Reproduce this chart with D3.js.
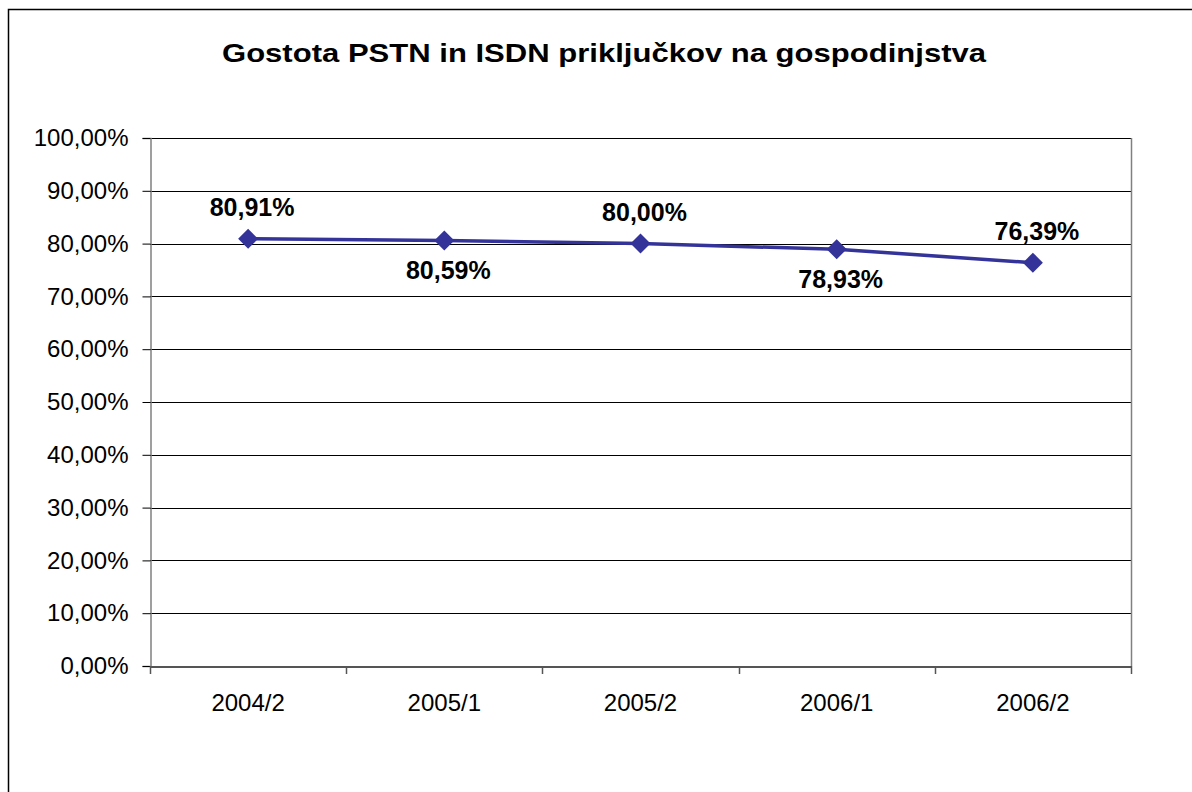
<!DOCTYPE html>
<html>
<head>
<meta charset="utf-8">
<script src="https://cdn.jsdelivr.net/npm/d3@7"></script>
<style>
  body { margin: 0; background: #fff; }
  text { font-family: "Liberation Sans", Arial, sans-serif; }
</style>
</head>
<body>
<div id="chart"></div>
<script>
// data
var periods = ["2004/2", "2005/1", "2005/2", "2006/1", "2006/2"];
var density = [80.91, 80.59, 80.00, 78.93, 76.39];
var labelPos = ["above", "below", "above", "below", "above"];
var yTicks = [0, 10, 20, 30, 40, 50, 60, 70, 80, 90, 100];

var width = 1192, height = 792;
var plot = {left: 150, top: 138, right: 1131, bottom: 666};

var svg = d3.select("#chart")
	.append("svg")
	.attr("width", width)
	.attr("height", height);

// frame (cut off at right/bottom)
svg.append("rect")
	.attr("x", 8.5).attr("y", 9.5)
	.attr("width", width + 20).attr("height", height + 20)
	.attr("fill", "#fff")
	.attr("stroke", "#000")
	.attr("stroke-width", 1.5);

var x = d3.scaleBand()
	.domain(periods)
	.range([plot.left, plot.right]);

var y = d3.scaleLinear()
	.domain([0, 100])
	.range([plot.bottom, plot.top]);

var fmt = function(v){ return d3.format(".2f")(v).replace(".", ",") + "%"; };

// gridlines
svg.append("g")
	.selectAll("line")
	.data(yTicks.filter(function(d){ return d > 0; }))
	.enter()
	.append("line")
	.attr("x1", plot.left).attr("x2", plot.right)
	.attr("y1", function(d){ return Math.round(y(d)) + 0.5; })
	.attr("y2", function(d){ return Math.round(y(d)) + 0.5; })
	.attr("stroke", "#000")
	.attr("stroke-width", 1);

// plot area right border
svg.append("line")
	.attr("x1", plot.right + 0.5).attr("x2", plot.right + 0.5)
	.attr("y1", plot.top).attr("y2", plot.bottom)
	.attr("stroke", "#808080").attr("stroke-width", 1.5);

// y axis
var yAxis = svg.append("g")
	.attr("transform", "translate(" + (plot.left + 0.5) + ",0)")
	.call(d3.axisLeft(y).tickValues(yTicks).tickSize(8).tickPadding(14).tickFormat(fmt));
yAxis.select(".domain").attr("stroke", "#808080").attr("stroke-width", 1.5);
yAxis.selectAll(".tick line").attr("stroke", "#000");
yAxis.selectAll("text").attr("font-size", 24).attr("fill", "#000")
	.attr("font-family", "Liberation Sans, Arial, sans-serif");

// x axis
var xAxis = svg.append("g")
	.attr("transform", "translate(0," + (plot.bottom + 0.5) + ")")
	.call(d3.axisBottom(x).tickSize(0).tickPadding(27));
xAxis.select(".domain").attr("stroke", "#555").attr("stroke-width", 2);
xAxis.selectAll("text").attr("font-size", 24).attr("fill", "#000")
	.attr("font-family", "Liberation Sans, Arial, sans-serif");

// category separators ticks
var edges = periods.map(function(p){ return x(p); }).concat([plot.right]);
svg.append("g")
	.selectAll("line")
	.data(edges)
	.enter()
	.append("line")
	.attr("x1", function(d){ return Math.round(d) + 0.5; })
	.attr("x2", function(d){ return Math.round(d) + 0.5; })
	.attr("y1", plot.bottom).attr("y2", plot.bottom + 8)
	.attr("stroke", "#555").attr("stroke-width", 1.5);

var cx = function(d, i){ return x(periods[i]) + x.bandwidth() / 2; };

// line
var line = d3.line()
	.x(function(d, i){ return cx(d, i); })
	.y(function(d){ return y(d); });

svg.append("path")
	.datum(density)
	.attr("d", line)
	.attr("fill", "none")
	.attr("stroke", "#333399")
	.attr("stroke-width", 3.5);

// markers
svg.selectAll(".marker")
	.data(density)
	.enter()
	.append("path")
	.attr("class", "marker")
	.attr("d", "M0,-10L10,0L0,10L-10,0Z")
	.attr("fill", "#333399")
	.attr("transform", function(d, i){ return "translate(" + cx(d, i) + "," + y(d) + ")"; });

// data labels
svg.selectAll(".dlabel")
	.data(density)
	.enter()
	.append("text")
	.attr("class", "dlabel")
	.attr("x", function(d, i){ return cx(d, i) + 4; })
	.attr("y", function(d, i){ return labelPos[i] === "above" ? y(d) - 23 : y(d) + 39; })
	.attr("text-anchor", "middle")
	.attr("font-size", 25)
	.attr("font-weight", "bold")
	.text(fmt);

// title
svg.append("text")
	.attr("x", 604)
	.attr("y", 62)
	.attr("text-anchor", "middle")
	.attr("font-size", 26)
	.attr("font-weight", "bold")
	.attr("textLength", 764)
	.attr("lengthAdjust", "spacingAndGlyphs")
	.text("Gostota PSTN in ISDN priključkov na gospodinjstva");
</script>
</body>
</html>
